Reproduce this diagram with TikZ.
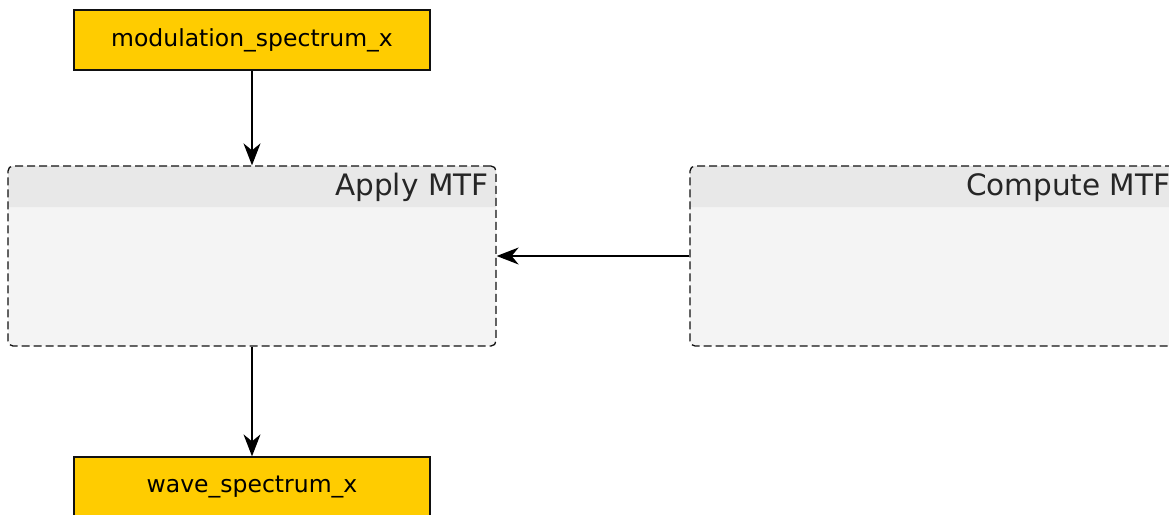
\documentclass[tikz,border=0pt]{standalone}
\usepackage{fontspec}
\setmainfont{DejaVu Sans}
\usetikzlibrary{arrows.meta}
\definecolor{dataYellow}{HTML}{FFCC00}
\definecolor{clusterBody}{HTML}{F4F4F4}
\definecolor{clusterHead}{HTML}{E8E8E8}
\definecolor{edgeInk}{HTML}{111111}
\tikzset{
  datanode/.style={draw=edgeInk, line width=1.3pt, fill=dataYellow,
    minimum width=356pt, minimum height=60pt, inner sep=0pt,
    font=\fontsize{23.5}{28}\selectfont},
  clusterbox/.style={draw=edgeInk, line width=1.3pt, dash pattern=on 8pt off 4pt,
    rounded corners=5pt, minimum width=488pt, minimum height=180pt, inner sep=0pt},
  clustertitle/.style={anchor=base east, inner sep=0pt, text=black!85,
    font=\fontsize{29.5}{34}\selectfont},
  flow/.style={draw=black, line width=1.6pt,
    -{Stealth[length=22pt, width=17pt, inset=7pt]}}
}
\begin{document}
\begin{tikzpicture}[x=1pt,y=-1pt]
\useasboundingbox (0,0) rectangle (1169,514);
\clip (0,0) rectangle (1169,514);

% cluster backgrounds with a shaded title band
\fill[clusterBody, rounded corners=5pt] (8,166) rectangle (496,346);
\fill[clusterHead] (8,207) [rounded corners=5pt] -- (8,166) -- (496,166) [sharp corners] -- (496,207) -- cycle;
\fill[clusterBody, rounded corners=5pt] (690,166) rectangle (1178,346);
\fill[clusterHead] (690,207) [rounded corners=5pt] -- (690,166) -- (1178,166) [sharp corners] -- (1178,207) -- cycle;

% clusters
\node[clusterbox] (apply) at (252,256) {};
\node[clusterbox] (compute) at (934,256) {};
\node[clustertitle] (applytitle) at ([xshift=-8pt, yshift=-30pt]apply.north east) {Apply MTF};
\node[clustertitle] (computetitle) at ([xshift=-8pt, yshift=-30pt]compute.north east) {Compute MTF};

% data nodes
\node[datanode] (modx) at (252,40) {modulation\_spectrum\_x};
\node[datanode] (wavex) at (252,487) {wave\_spectrum\_x};

% connectors
\draw[flow] (modx.south) -- (apply.north);
\draw[flow] (apply.south) -- (wavex.north);
\draw[flow] (compute.west) -- (apply.east);
\end{tikzpicture}
\end{document}
